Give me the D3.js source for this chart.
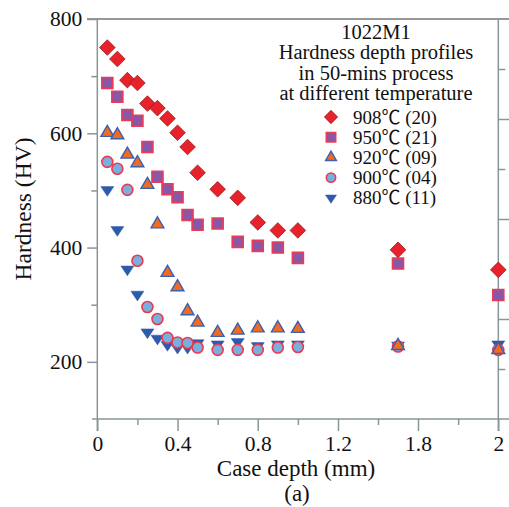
<!DOCTYPE html>
<html><head><meta charset="utf-8">
<script src="https://cdn.jsdelivr.net/npm/d3@7/dist/d3.min.js"></script>
<style>
body{margin:0;background:#fff;}
svg{display:block;font-family:"Liberation Serif","Times New Roman",serif;}
</style></head>
<body><svg id="c" width="509" height="507"></svg>
<script>
// ---- data ----
const xTickValues = [0, 0.4, 0.8, 1.2, 1.8, 2];
const xTickLabels = ["0", "0.4", "0.8", "1.2", "1.8", "2"];
const xMinorTicks = [0.2, 0.6, 1.0, 1.5, 1.9];
const yTickValues = [200, 400, 600, 800];
const yMinorTicks = [300, 500, 700];

const depth = [0.05,0.1,0.15,0.2,0.25,0.3,0.35,0.4,0.45,0.5,0.6,0.7,0.8,0.9,1.0,1.65,2.0];
const hv908 = [750,730,693,688,652,644,626,601,576,531,502,487,444,430,430,396,361];
const hv950 = [688,664,632,622,576,524,502,488,457,440,442,410,403,400,382,372,317];
const hv920 = [601,597,563,548,510,441,356,331,289,269,251,255,259,259,258,228,221];
const hv900 = [550,538,501,377,296,275,242,234,233,225,221,221,221,225,226,227,221];
const hv880 = [501,431,362,318,252,241,230,225,225,233,231,235,228,231,231,229,231];

const seriesNames = ["908℃ (20)", "950℃ (21)", "920℃ (09)", "900℃ (04)", "880℃ (11)"];
const titleLines = ["1022M1", "Hardness depth profiles", "in 50-mins process", "at different temperature"];

// ---- layout ----
const FONT = '"Liberation Serif","Times New Roman",serif';
const svg = d3.select("#c");
const L = 97.3, R = 498.3, T = 19, B = 419;
const x = d3.scaleLinear().domain([0, 1.2, 1.8, 2]).range([L, 338, 418, R]);
const y = d3.scaleLinear().domain([100, 800]).range([B, T]);
const yR = d3.scaleLinear().domain([0, 8]).range([B, T]);

const axisCol = "#8a9696";

// frame lines
svg.append("line").attr("x1", 87).attr("x2", 509).attr("y1", T).attr("y2", T).attr("stroke", "#333").attr("stroke-width", 1.2);
svg.append("line").attr("x1", L).attr("x2", L).attr("y1", T).attr("y2", 431).attr("stroke", axisCol).attr("stroke-width", 1.5);
svg.append("line").attr("x1", R).attr("x2", R).attr("y1", T).attr("y2", 431).attr("stroke", axisCol).attr("stroke-width", 1.5);
svg.append("line").attr("x1", 92).attr("x2", 509).attr("y1", B).attr("y2", B).attr("stroke", axisCol).attr("stroke-width", 1.5);

function styleAxis(g){
  g.attr("font-family", FONT);
  g.select(".domain").remove();
  g.selectAll(".tick line").attr("stroke", axisCol).attr("stroke-width", 1.5);
  g.selectAll(".tick text").attr("fill", "#111").style("font-family", FONT);
}

// x axis
svg.append("g").attr("transform", `translate(0,${B})`)
  .call(d3.axisBottom(x).tickValues(xTickValues).tickSize(12).tickPadding(5)
    .tickFormat((d, i) => xTickLabels[i]))
  .call(styleAxis)
  .call(g => g.selectAll(".tick text").attr("font-size", 21.5));
svg.append("g").attr("transform", `translate(0,${B})`)
  .call(d3.axisBottom(x).tickValues(xMinorTicks).tickSize(6).tickFormat(""))
  .call(styleAxis);

// y axis
svg.append("g").attr("transform", `translate(${L},0)`)
  .call(d3.axisLeft(y).tickValues(yTickValues).tickSize(10).tickPadding(5))
  .call(styleAxis)
  .call(g => g.selectAll(".tick text").attr("font-size", 21.5));
svg.append("g").attr("transform", `translate(${L},0)`)
  .call(d3.axisLeft(y).tickValues(yMinorTicks).tickSize(6).tickFormat(""))
  .call(styleAxis);

// right axis (unlabelled)
svg.append("g").attr("transform", `translate(${R},0)`)
  .call(d3.axisRight(yR).tickValues([2, 4, 6]).tickSize(11).tickFormat(""))
  .call(styleAxis);
svg.append("g").attr("transform", `translate(${R},0)`)
  .call(d3.axisRight(yR).tickValues([1, 3, 5, 7]).tickSize(7).tickFormat(""))
  .call(styleAxis);

// axis titles
svg.append("text").attr("x", 296).attr("y", 476).attr("text-anchor", "middle")
  .attr("font-size", 23).attr("fill", "#111").text("Case depth (mm)");
svg.append("text").attr("x", 297).attr("y", 501).attr("text-anchor", "middle")
  .attr("font-size", 23).attr("fill", "#111").text("(a)");
svg.append("text").attr("transform", "translate(31,209) rotate(-90)").attr("text-anchor", "middle")
  .attr("font-size", 23.5).attr("fill", "#111").text("Hardness (HV)");

// ---- marker styles ----
const styles = [
  {type: "diamond", fill: "#e8222a", stroke: "#9a1a1a", sw: 0.8, s: 7.8},
  {type: "square",  fill: "#8a56a8", stroke: "#ee3a52", sw: 1.6, s: 5.5},
  {type: "tri",     fill: "#f06a20", stroke: "#3d5fae", sw: 1.4, s: 6.4},
  {type: "circle",  fill: "#78aee0", stroke: "#ec3a4c", sw: 1.6, s: 5.5},
  {type: "tridown", fill: "#2e5aaa", stroke: "#2e5aaa", sw: 0.5, s: 6.5}
];
function markerPath(t, s){
  if (t === "diamond") return `M0,${-s}L${s},0L0,${s}L${-s},0Z`;
  if (t === "square") return `M${-s},${-s}H${s}V${s}H${-s}Z`;
  if (t === "tri") { const h = s*1.732; return `M0,${-h*2/3}L${s},${h/3}L${-s},${h/3}Z`; }
  if (t === "tridown") { const h = s*1.5; return `M0,${h*2/3}L${s},${-h/3}L${-s},${-h/3}Z`; }
  return d3.arc()({innerRadius:0, outerRadius:s, startAngle:0, endAngle:2*Math.PI});
}
function drawSeries(vals, st){
  svg.append("g").selectAll("path").data(depth.map((d, i) => [d, vals[i]])).join("path")
    .attr("transform", d => `translate(${x(d[0])},${y(d[1])})`)
    .attr("d", markerPath(st.type, st.s))
    .attr("fill", st.fill).attr("stroke", st.stroke).attr("stroke-width", st.sw);
}
// draw order: 880, 900, 920, 950, 908
drawSeries(hv880, styles[4]);
drawSeries(hv900, styles[3]);
drawSeries(hv920, styles[2]);
drawSeries(hv950, styles[1]);
drawSeries(hv908, styles[0]);

// ---- legend ----
const lg = svg.append("g");
titleLines.forEach((t, i) => {
  lg.append("text").attr("x", 376).attr("y", 39 + i*20.3).attr("text-anchor", "middle")
    .attr("font-size", 20.5).attr("fill", "#111").text(t);
});
seriesNames.forEach((n, i) => {
  const cy = 117 + i*20.2;
  const st = styles[i];
  lg.append("path").attr("transform", `translate(331,${cy})`).attr("d", markerPath(st.type, st.s*0.85))
    .attr("fill", st.fill).attr("stroke", st.stroke).attr("stroke-width", st.sw);
  lg.append("text").attr("x", 353).attr("y", cy + 6.5).attr("font-size", 19).attr("fill", "#111")
    .style("font-family", '"Liberation Serif","Noto Sans CJK SC",serif').text(n);
});
</script></body></html>
